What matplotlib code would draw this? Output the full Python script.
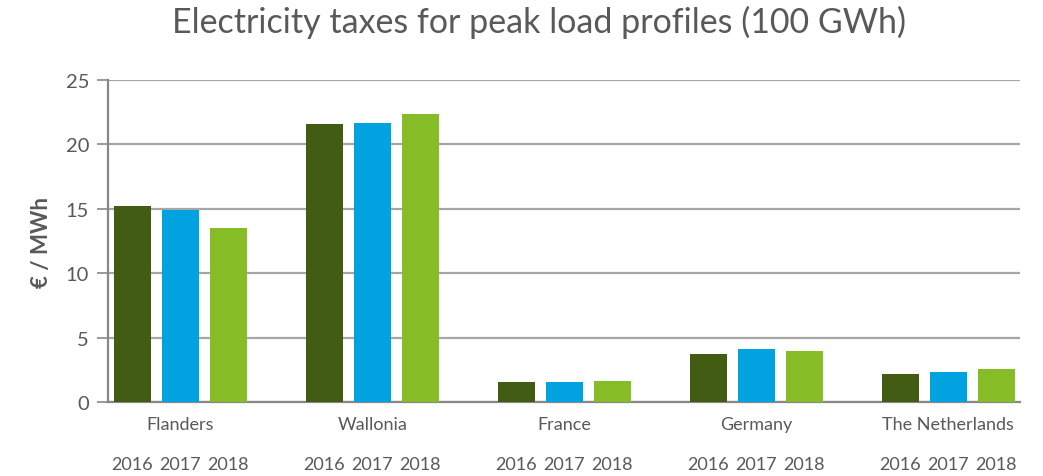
import numpy as np
import matplotlib.pyplot as plt
from matplotlib.transforms import blended_transform_factory

# Data
regions = ['Flanders', 'Wallonia', 'France', 'Germany', 'The Netherlands']
years = ['2016', '2017', '2018']
tax_2016 = [15.2, 21.6, 1.55, 3.7, 2.15]
tax_2017 = [14.9, 21.7, 1.55, 4.1, 2.3]
tax_2018 = [13.5, 22.4, 1.6, 4.0, 2.6]
colors = ['#425C14', '#00A2E0', '#86BC25']

plt.rcParams['font.family'] = ['Lato', 'DejaVu Sans']
grey = '#595959'

fig = plt.figure(figsize=(10.43, 4.77), dpi=100)
ax = fig.add_axes([0.104, 0.155, 0.874, 0.675])

# each region takes 4 slots: three bars plus one empty slot
n = len(regions)
series = [tax_2016, tax_2017, tax_2018]
xticks, xlabels = [], []
for j, vals in enumerate(series):
    x = np.arange(n) * 4 + j
    ax.bar(x, vals, width=0.77, color=colors[j], zorder=3)
    xticks += list(x)
    xlabels += [years[j]] * n

ax.set_xlim(-0.5, 4 * n - 1.5)
ax.set_ylim(0, 25)
ax.set_yticks(np.arange(0, 26, 5))
ax.grid(axis='y', color='#a6a6a6', linewidth=1.6, zorder=0)

ax.set_xticks(xticks)
ax.set_xticklabels(xlabels, fontsize=13, color=grey)
ax.tick_params(axis='x', length=0, pad=39)
ax.tick_params(axis='y', length=8, width=1.2, color='#888888',
               labelsize=14.5, labelcolor=grey, pad=6)

trans = blended_transform_factory(ax.transData, ax.transAxes)
for i, name in enumerate(regions):
    ax.text(i * 4 + 1, -0.042, name, transform=trans, ha='center', va='top',
            fontsize=13, color=grey)

for side in ['top', 'right']:
    ax.spines[side].set_visible(False)
for side in ['left', 'bottom']:
    ax.spines[side].set_color('#888888')
    ax.spines[side].set_linewidth(1.6)

ax.set_ylabel('€ / MWh', fontsize=16, fontweight='bold', color=grey, labelpad=10)
fig.text(0.517, 0.953, 'Electricity taxes for peak load profiles (100 GWh)',
         ha='center', va='center', fontsize=24.5, color=grey)

fig.savefig('out.png', dpi=100)
